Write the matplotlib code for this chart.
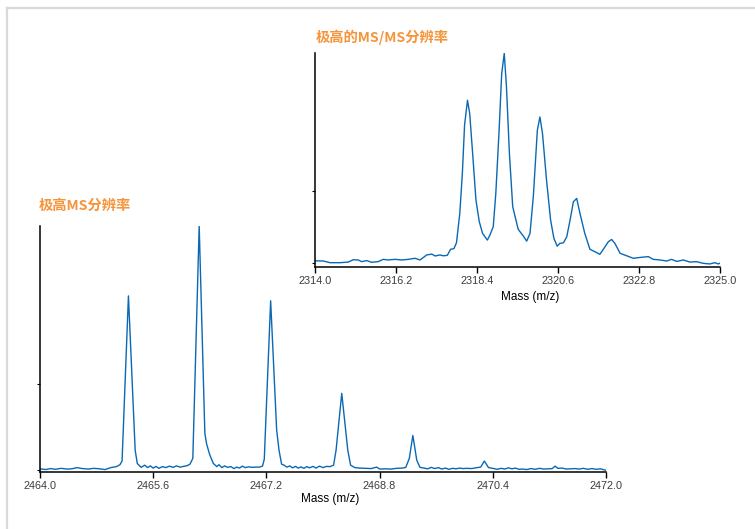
import matplotlib
matplotlib.use("Agg")
import matplotlib.pyplot as plt
from matplotlib.lines import Line2D

plt.rcParams['font.family'] = ['Liberation Sans', 'Noto Sans CJK SC']

# MS spectrum, isotope cluster around m/z 2466 (relative intensity)
ms_mz = [2464.00, 2464.08, 2464.15, 2464.22, 2464.30, 2464.38, 2464.45, 2464.52, 2464.60, 2464.68,
         2464.76, 2464.84, 2464.92, 2465.00, 2465.08, 2465.13, 2465.16, 2465.25, 2465.345, 2465.375,
         2465.43, 2465.48, 2465.52, 2465.56, 2465.60, 2465.64, 2465.68, 2465.73, 2465.78, 2465.83,
         2465.88, 2465.93, 2465.98, 2466.03, 2466.08, 2466.12, 2466.16, 2466.25, 2466.33, 2466.355,
         2466.40, 2466.45, 2466.50, 2466.53, 2466.57, 2466.61, 2466.65, 2466.70, 2466.74, 2466.78,
         2466.82, 2466.86, 2466.90, 2466.95, 2467.00, 2467.05, 2467.10, 2467.145, 2467.17, 2467.26,
         2467.345, 2467.378, 2467.415, 2467.45, 2467.49, 2467.53, 2467.57, 2467.61, 2467.65, 2467.69,
         2467.73, 2467.77, 2467.81, 2467.86, 2467.90, 2467.95, 2468.00, 2468.05, 2468.10, 2468.15,
         2468.185, 2468.265, 2468.35, 2468.39, 2468.45, 2468.52, 2468.60, 2468.68, 2468.76, 2468.80,
         2468.88, 2468.96, 2469.04, 2469.12, 2469.17, 2469.22, 2469.27, 2469.325, 2469.37, 2469.43,
         2469.48, 2469.53, 2469.58, 2469.63, 2469.68, 2469.73, 2469.78, 2469.83, 2469.88, 2469.93,
         2469.98, 2470.03, 2470.10, 2470.18, 2470.23, 2470.28, 2470.34, 2470.40, 2470.46, 2470.52,
         2470.57, 2470.62, 2470.67, 2470.72, 2470.77, 2470.82, 2470.88, 2470.94, 2471.00, 2471.06,
         2471.12, 2471.18, 2471.24, 2471.28, 2471.32, 2471.38, 2471.44, 2471.50, 2471.56, 2471.62,
         2471.68, 2471.74, 2471.80, 2471.86, 2471.92, 2472.00]
ms_int = [0.3, 0.0, 0.4, 0.1, 0.5, 0.2, 0.3, 0.8, 0.4, 0.2,
          0.5, 0.3, 0.0, 0.8, 1.2, 2.0, 3.5, 71.3, 8.0, 2.5,
          0.9, 1.8, 0.8, 1.5, 0.6, 1.3, 0.5, 1.2, 0.8, 1.4,
          0.9, 1.5, 1.0, 1.3, 1.6, 2.2, 4.6, 100.0, 14.9, 10.5,
          6.0, 2.5, 1.2, 2.0, 0.8, 1.5, 0.9, 1.2, 0.4, 1.0,
          0.6, 1.4, 0.8, 1.1, 0.9, 1.0, 1.0, 1.4, 4.2, 69.3,
          16.2, 8.0, 2.2, 1.8, 1.0, 1.5, 0.7, 1.3, 0.6, 1.1,
          0.5, 1.2, 0.7, 1.3, 0.6, 1.4, 0.8, 1.3, 1.2, 1.8,
          8.0, 31.3, 8.0, 1.8, 0.8, 0.6, 0.5, 0.4, 1.0, 0.2,
          0.3, 0.2, 0.5, 0.6, 0.9, 4.6, 14.0, 3.9, 0.9, 0.6,
          0.3, 0.9, 0.4, 0.8, 0.2, 0.6, 0.1, 0.5, 0.3, 0.6,
          0.4, 0.5, 0.4, 0.8, 1.0, 3.5, 0.8, 0.5, 0.1, 0.5,
          0.2, 0.7, 0.3, 0.6, 0.1, 0.2, 0.0, 0.4, 0.1, 0.5,
          0.2, 0.3, 0.4, 1.4, 0.5, 0.6, 0.2, 0.3, 0.4, 0.2,
          0.5, 0.1, 0.4, 0.1, 0.3, -0.3]
ms_ticks = [2464.0, 2465.6, 2467.2, 2468.8, 2470.4, 2472.0]

# MS/MS spectrum, fragment cluster around m/z 2319
msms_mz = [2314.00, 2314.22, 2314.40, 2314.67, 2314.90, 2315.03, 2315.17, 2315.26, 2315.40, 2315.53,
           2315.71, 2315.85, 2315.98, 2316.17, 2316.35, 2316.53, 2316.71, 2316.85, 2317.03, 2317.17,
           2317.26, 2317.39, 2317.48, 2317.59, 2317.68, 2317.77, 2317.84, 2317.93, 2318.00, 2318.06,
           2318.14, 2318.20, 2318.28, 2318.37, 2318.46, 2318.55, 2318.68, 2318.75, 2318.84, 2318.91,
           2319.00, 2319.07, 2319.14, 2319.20, 2319.28, 2319.37, 2319.52, 2319.66, 2319.75, 2319.84,
           2319.93, 2320.04, 2320.11, 2320.18, 2320.29, 2320.40, 2320.49, 2320.58, 2320.65, 2320.75,
           2320.84, 2320.93, 2321.02, 2321.11, 2321.20, 2321.33, 2321.47, 2321.61, 2321.74, 2321.85,
           2321.97, 2322.06, 2322.15, 2322.29, 2322.47, 2322.65, 2322.83, 2323.06, 2323.19, 2323.37,
           2323.56, 2323.69, 2323.83, 2324.01, 2324.19, 2324.37, 2324.55, 2324.73, 2324.87, 2324.96,
           2325.00]
msms_int = [0.9, 0.8, 0.0, 0.0, 0.3, 1.4, 1.3, 0.5, 1.0, 0.2,
            0.5, 1.6, 1.3, 1.6, 1.3, 1.6, 2.1, 1.3, 3.7, 4.1,
            3.2, 3.7, 3.3, 3.5, 6.4, 6.7, 9.5, 23.5, 42.6, 65.7,
            77.6, 71.2, 52.1, 29.9, 19.6, 14.0, 10.8, 13.2, 17.2, 33.1,
            63.3, 90.3, 100.0, 83.9, 52.1, 26.7, 15.9, 12.7, 10.3, 14.0,
            31.5, 63.3, 69.6, 61.7, 39.4, 20.4, 11.6, 7.9, 9.2, 9.5,
            12.4, 20.4, 29.1, 30.7, 23.5, 14.0, 6.4, 5.2, 4.0, 6.8,
            10.0, 11.1, 9.2, 4.5, 3.3, 2.1, 2.5, 2.9, 1.6, 1.3,
            0.8, 1.6, 0.6, 1.3, 0.3, 0.5, -0.3, -0.6, 0.0, -0.6,
            -0.3]
msms_ticks = [2314.0, 2316.2, 2318.4, 2320.6, 2322.8, 2325.0]

line_color = '#0b68b3'
title_color = '#f5953b'
tick_color = '#3c3c3c'

fig = plt.figure(figsize=(7.55, 5.29), dpi=100)

# light grey frame along top and left
fig.add_artist(Line2D([7 / 755, 7 / 755], [0, 1 - 8 / 529], color='#d9d9d9', lw=1.6))
fig.add_artist(Line2D([7 / 755, 1], [1 - 8 / 529, 1 - 8 / 529], color='#d9d9d9', lw=1.6))


def style_axes(ax, ticks, ytick):
    ax.spines['top'].set_visible(False)
    ax.spines['right'].set_visible(False)
    for s in ('left', 'bottom'):
        ax.spines[s].set_linewidth(1.1)
        ax.spines[s].set_color('black')
    ax.set_xticks(ticks)
    ax.set_xticklabels([f'{t:.1f}' for t in ticks])
    ax.set_yticks([0, ytick])
    ax.set_yticklabels([])
    ax.tick_params(axis='x', length=4, width=1.0, pad=2.5, labelsize=7.8, labelcolor=tick_color)
    ax.tick_params(axis='y', length=2.5, width=0.8)
    ax.set_facecolor('none')


ax1 = fig.add_axes([40 / 755, 1 - 471.5 / 529, 566 / 755, 245.5 / 529])
ax1.plot(ms_mz, ms_int, color=line_color, lw=1.0)
ax1.set_xlim(2464.0, 2472.0)
ax1.set_ylim(-0.8, 100)
style_axes(ax1, ms_ticks, 35)
fig.text(330 / 755, 1 - 499 / 529, 'Mass (m/z)', ha='center', va='center', fontsize=8.5)
fig.text(39 / 755, 1 - 206 / 529, '极高MS分辨率', ha='left', va='center', fontsize=10.3,
         fontweight='bold', color=title_color, family=['Noto Sans CJK SC', 'DejaVu Sans'])

ax2 = fig.add_axes([315.3 / 755, 1 - 267.3 / 529, 404.4 / 755, 214 / 529])
ax2.plot(msms_mz, msms_int, color=line_color, lw=1.0)
ax2.set_xlim(2314.0, 2325.0)
ax2.set_ylim(-2.2, 100)
style_axes(ax2, msms_ticks, 34)
fig.text(530 / 755, 1 - 297 / 529, 'Mass (m/z)', ha='center', va='center', fontsize=8.5)
fig.text(316 / 755, 1 - 37 / 529, '极高的MS/MS分辨率', ha='left', va='center', fontsize=10.3,
         fontweight='bold', color=title_color, family=['Noto Sans CJK SC', 'DejaVu Sans'])

fig.savefig('out.png', dpi=100)
